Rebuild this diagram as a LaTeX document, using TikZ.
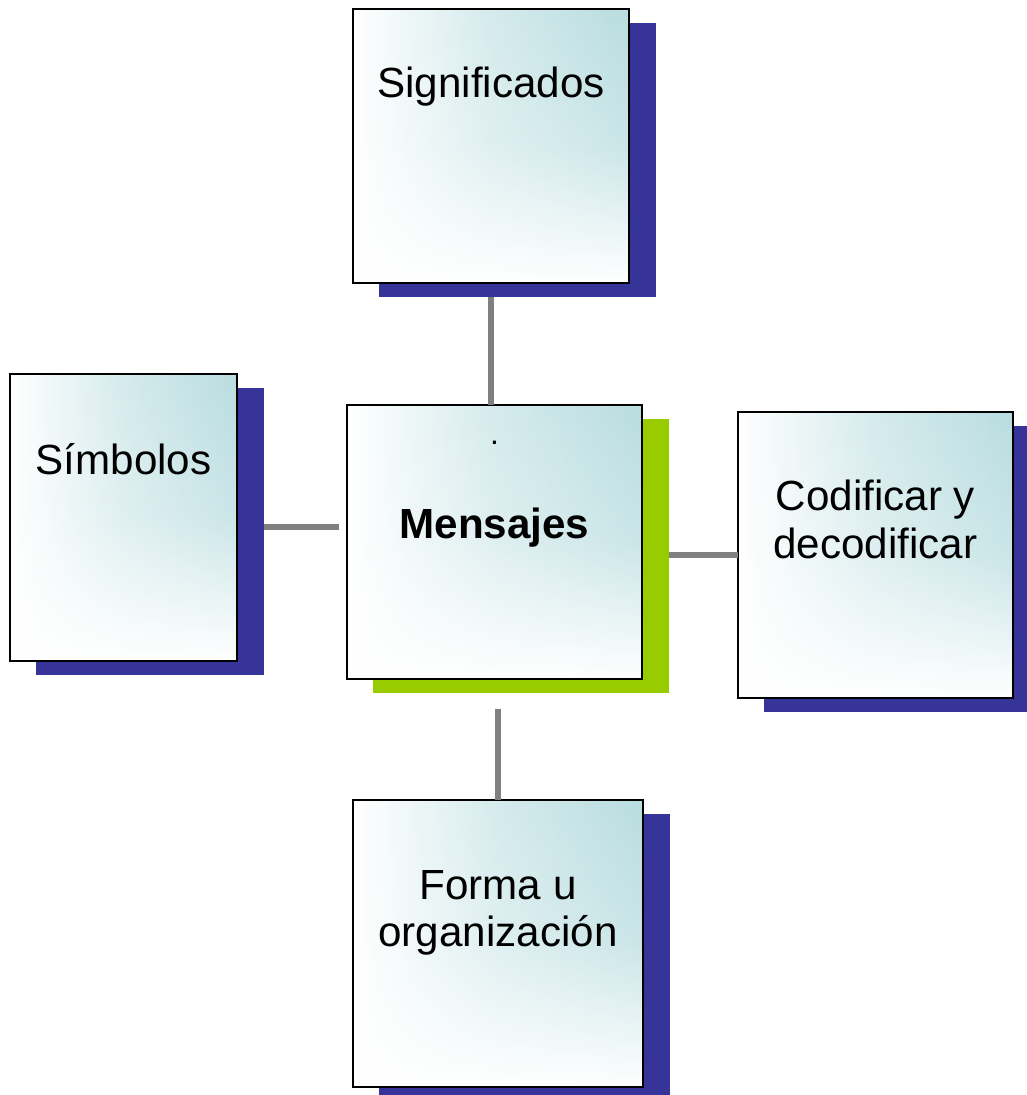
\documentclass[tikz,border=0pt]{standalone}
\usepackage{fontspec}
\setmainfont{Liberation Sans}
\usetikzlibrary{positioning,backgrounds,fadings}

\definecolor{boxteal}{RGB}{185,221,224}
\definecolor{shadeblue}{RGB}{54,52,153}
\definecolor{shadegreen}{RGB}{153,204,0}
\definecolor{linkgray}{RGB}{128,128,128}
\tikzfading[name=cardfade,top color=transparent!0,bottom color=transparent!100,middle color=transparent!25]

\tikzset{
  card/.style={fill=white,inner sep=0pt,
    postaction={left color=white,right color=boxteal,middle color=boxteal!60,path fading=cardfade},
    postaction={draw=black,line width=1.1pt}},
  lbl/.style={inner sep=0pt,align=center,font=\fontsize{24}{27.2}\selectfont},
  link/.style={draw=linkgray,line width=3.3pt},
}

\begin{document}
\begin{tikzpicture}[x=0.02cm,y=-0.02cm]
\useasboundingbox (0,0) rectangle (1027,1095);

\node[card,minimum width=5.52cm,minimum height=5.48cm] (sig) at (491,146) {};
\node[card,minimum width=4.54cm,minimum height=5.74cm] (sim) at (123.5,517.5) {};
\node[card,minimum width=5.9cm,minimum height=5.48cm] (men) at (494.5,542) {};
\node[card,minimum width=5.5cm,minimum height=5.72cm] (cod) at (875.5,555) {};
\node[card,minimum width=5.8cm,minimum height=5.74cm] (forma) at (498,943.5) {};

\begin{scope}[on background layer]
\foreach \n/\c in {sig/shadeblue,sim/shadeblue,men/shadegreen,cod/shadeblue,forma/shadeblue}
  \fill[\c] ([xshift=0.53cm,yshift=-0.28cm]\n.south west) rectangle ([xshift=0.53cm,yshift=-0.28cm]\n.north east);
\end{scope}

\node[lbl,below=1.16cm of sig.north] (sigtext) {Significados};
\node[lbl,below=1.38cm of sim.north] (simtext) {Símbolos};
\node[lbl,below=0.72cm of men.north,font=\fontsize{18}{18}\selectfont] (dot) {.};
\node[lbl,below=2.06cm of men.north,font=\fontsize{24}{27.2}\selectfont\bfseries] (mentext) {Mensajes};
\node[lbl,below=1.36cm of cod.north] (codtext) {Codificar y\\decodificar};
\node[lbl,below=1.4cm of forma.north] (formatext) {Forma u\\organización};

\draw[link] (men.north -| sig.south) -- ++(0,2.16cm);
\draw[link] ([xshift=-0.16cm,yshift=0.3cm]men.west) -- ++(-1.5cm,0);
\draw[link] (cod.west) -- ++(-1.38cm,0);
\draw[link] (forma.north) -- ++(0,1.82cm);

\end{tikzpicture}
\end{document}
